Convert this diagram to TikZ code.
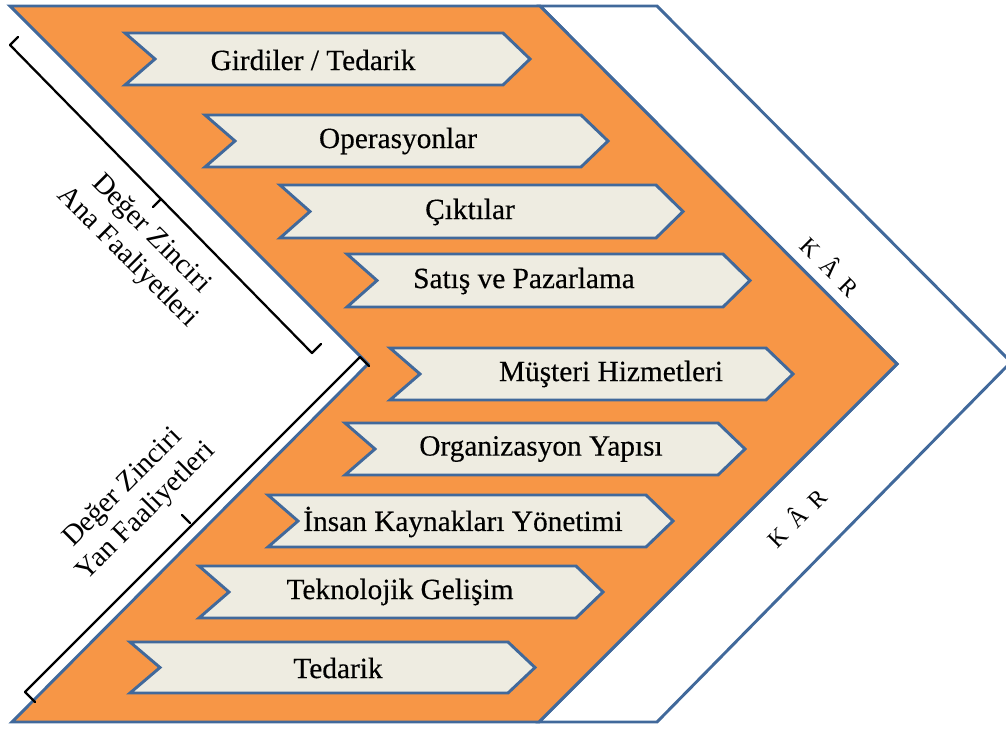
\documentclass[tikz,border=0pt]{standalone}
\usepackage{fontspec}
\setmainfont{Liberation Serif}
\newfontfamily\stagefont[FakeBold=0.35]{Liberation Serif}
\definecolor{chainblue}{RGB}{65,105,155}
\definecolor{chainorange}{RGB}{247,150,70}
\definecolor{stagefill}{RGB}{238,236,225}
\begin{document}
\begin{tikzpicture}[x=0.75pt, y=-0.75pt,
  edge/.style={draw=chainblue, line width=2.2pt, line join=miter},
  band/.style={edge, fill=white},
  core/.style={edge, fill=chainorange},
  stage/.style={edge, fill=stagefill},
  stagetext/.style={font=\stagefont\fontsize{22}{25}\selectfont, inner sep=0pt},
  brace/.style={draw=black, line width=1.7pt, line join=round, line cap=round},
  sidetext/.style={font=\fontsize{21.5}{25}\selectfont, align=center, inner sep=0pt},
  profit/.style={font=\fontsize{18}{20}\selectfont, inner sep=0pt}]
\useasboundingbox (0,0) rectangle (1006,729);

% profit band behind the main chevron
\draw[band] (540,6) -- (657,6) -- (1011,362) -- (657,722) -- (539,722) -- (897,364) -- cycle;
% main value chain chevron
\draw[core] (10,6) -- (540,6) -- (897,364) -- (539,722) -- (12,722) -- (368,364) -- cycle;

% stage arrow: left x, top y, bottom y, right tip x
\newcommand{\stagearrow}[4]{%
  \draw[stage] (#1,#2) -- (#4-27,#2) -- (#4,{(#2+#3)/2}) -- (#4-27,#3) -- (#1,#3) -- (#1+30,{(#2+#3)/2}) -- cycle;}

\stagearrow{125}{33}{85}{530}
\stagearrow{205}{115}{167}{608}
\stagearrow{280}{185}{238}{683}
\stagearrow{347}{254}{307}{750}
\stagearrow{390}{348}{400}{793}
\stagearrow{345}{423}{475}{745}
\stagearrow{268}{495}{547}{673}
\stagearrow{199}{566}{618}{603}
\stagearrow{130}{642}{693}{535}

\node[stagetext] (s1) at (313,60)  {Girdiler / Tedarik};
\node[stagetext] (s2) at (398,141) {Operasyonlar};
\node[stagetext] (s3) at (470,212) {Çıktılar};
\node[stagetext] (s4) at (524,281) {Satış ve Pazarlama};
\node[stagetext] (s5) at (611,374) {Müşteri Hizmetleri};
\node[stagetext] (s6) at (541,449) {Organizasyon Yapısı};
\node[stagetext] (s7) at (463,522) {İnsan Kaynakları Yönetimi};
\node[stagetext] (s8) at (400,592) {Teknolojik Gelişim};
\node[stagetext] (s9) at (338,668) {Tedarik};

% profit labels
\node[profit, rotate=-45] (k1) at (831,266) {K\hspace{0.45em}Â\hspace{0.45em}R};
\node[profit, rotate=45]  (k2) at (796,517) {K\hspace{0.45em}Â\hspace{0.45em}R};

% braces grouping primary and support activities
\draw[brace] (18,37) -- (10,45) -- (312,353) -- (321,344);
\draw[brace] (161,199) -- (153,207);
\draw[brace] (35,702) -- (25,692) -- (360,357) -- (369,366);
\draw[brace] (190,523) -- (182,515);

\node[sidetext, rotate=-45] (primary) at (139,246) {Değer Zinciri\\Ana Faaliyetleri};
\node[sidetext, rotate=45]  (support) at (135,500) {Değer Zinciri\\Yan Faaliyetleri};
\end{tikzpicture}
\end{document}
